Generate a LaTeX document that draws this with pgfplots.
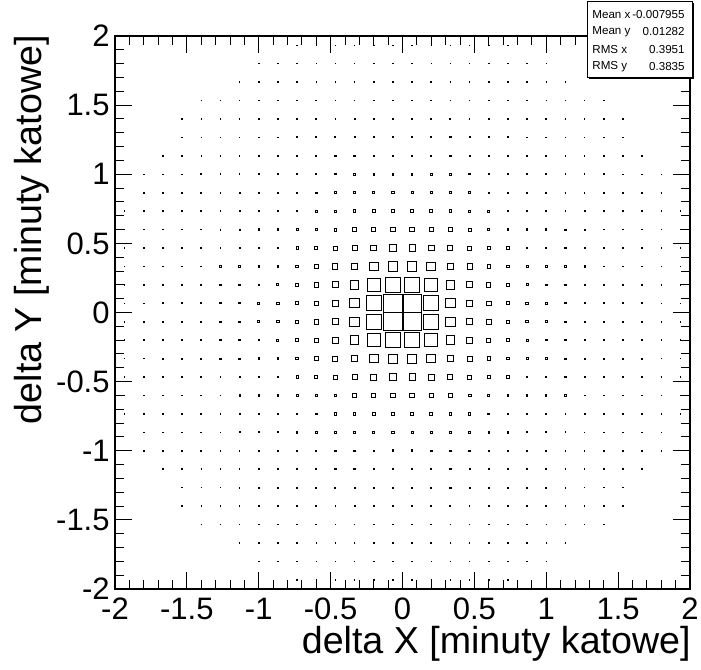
\documentclass[border=0pt]{standalone}
\usepackage{pgfplots}
\usepackage{pgfplotstable}
\pgfplotsset{compat=1.18}
\usepackage{fontspec}
\setmainfont{Liberation Sans}

% box side (percent of bin width), rows from bottom (y=-2) to top (y=2), columns from x=-2 to x=2
\pgfplotstableread[header=false]{
0 0 0 0 0 0 0 0 0 7 7 7 7 7 7 7 7 7 7 7 7 0 0 0 0 0 0 0 0 0
0 0 0 0 0 0 0 7 7 7 7 7 7 7 7 7 7 7 7 7 7 7 7 0 0 0 0 0 0 0
0 0 0 0 0 0 7 7 7 7 7 8 8 8 8 8 8 8 8 7 7 7 7 7 0 0 0 0 0 0
0 0 0 0 7 7 7 7 7 8 8 8 8 8 8 8 8 8 8 8 8 7 7 7 7 7 0 0 0 0
0 0 0 7 7 7 7 8 8 8 8 8 9 9 9 9 9 9 8 8 8 8 8 7 7 7 7 0 0 0
0 0 0 7 7 7 8 8 8 9 9 9 10 10 10 10 10 10 9 9 9 8 8 8 7 7 7 0 0 0
0 0 7 7 7 8 8 8 9 9 10 10 11 11 11 11 11 11 10 10 9 9 8 8 8 7 7 7 0 0
0 7 7 7 8 8 8 9 10 10 11 11 12 12 13 13 12 12 11 11 10 10 9 8 8 8 7 7 7 0
0 7 7 7 8 8 9 10 10 11 12 13 14 15 16 16 15 14 13 12 11 10 10 9 8 8 7 7 7 0
7 7 7 8 8 9 9 10 11 12 14 16 17 19 21 21 19 17 16 14 12 11 10 9 9 8 8 7 7 7
7 7 7 8 8 9 10 11 12 14 16 19 23 27 28 28 27 23 19 16 14 12 11 10 9 8 8 7 7 7
7 7 8 8 8 9 10 11 13 16 19 25 31 35 37 37 35 31 25 19 16 13 11 10 9 8 8 8 7 7
7 7 8 8 9 10 11 12 14 17 23 31 37 50 53 53 50 37 31 23 17 14 12 11 10 9 8 8 7 7
7 7 8 8 9 10 11 12 15 19 27 35 50 74 83 83 74 50 35 27 19 15 12 11 10 9 8 8 7 7
7 7 8 8 9 10 11 13 16 21 28 37 53 83 100 100 83 53 37 28 21 16 13 11 10 9 8 8 7 7
7 7 8 8 9 10 11 13 16 21 28 37 53 83 100 100 83 53 37 28 21 16 13 11 10 9 8 8 7 7
7 7 8 8 9 10 11 12 15 19 27 35 50 74 83 83 74 50 35 27 19 15 12 11 10 9 8 8 7 7
7 7 8 8 9 10 11 12 14 17 23 31 37 50 53 53 50 37 31 23 17 14 12 11 10 9 8 8 7 7
7 7 8 8 8 9 10 11 13 16 19 25 31 35 37 37 35 31 25 19 16 13 11 10 9 8 8 8 7 7
7 7 7 8 8 9 10 11 12 14 16 19 23 27 28 28 27 23 19 16 14 12 11 10 9 8 8 7 7 7
7 7 7 8 8 9 9 10 11 12 14 16 17 19 21 21 19 17 16 14 12 11 10 9 9 8 8 7 7 7
0 7 7 7 8 8 9 10 10 11 12 13 14 15 16 16 15 14 13 12 11 10 10 9 8 8 7 7 7 0
0 7 7 7 8 8 8 9 10 10 11 11 12 12 13 13 12 12 11 11 10 10 9 8 8 8 7 7 7 0
0 0 7 7 7 8 8 8 9 9 10 10 11 11 11 11 11 11 10 10 9 9 8 8 8 7 7 7 0 0
0 0 0 7 7 7 8 8 8 9 9 9 10 10 10 10 10 10 9 9 9 8 8 8 7 7 7 0 0 0
0 0 0 7 7 7 7 8 8 8 8 8 9 9 9 9 9 9 8 8 8 8 8 7 7 7 7 0 0 0
0 0 0 0 7 7 7 7 7 8 8 8 8 8 8 8 8 8 8 8 8 7 7 7 7 7 0 0 0 0
0 0 0 0 0 0 7 7 7 7 7 8 8 8 8 8 8 8 8 7 7 7 7 7 0 0 0 0 0 0
0 0 0 0 0 0 0 7 7 7 7 7 7 7 7 7 7 7 7 7 7 7 7 0 0 0 0 0 0 0
0 0 0 0 0 0 0 0 0 7 7 7 7 7 7 7 7 7 7 7 7 0 0 0 0 0 0 0 0 0
}\boxdata

\begin{document}
\begin{tikzpicture}
\useasboundingbox (0,0) rectangle (350.5pt,334.5pt);
\begin{axis}[
  at={(57.5pt,40pt)}, anchor=south west,
  scale only axis, width=287.5pt, height=276.5pt,
  xmin=-2, xmax=2, ymin=-2, ymax=2,
  xtick={-2,-1.5,...,2}, ytick={-2,-1.5,...,2},
  minor tick num=4,
  tick align=inside,
  major tick length=8.5pt, minor tick length=4.5pt,
  axis line style={line width=0.6pt},
  every tick/.style={black, line width=0.5pt},
  /pgf/number format/assume math mode=true,
  ticklabel style={font=\fontsize{15.5}{18}\selectfont},
  xticklabel style={yshift=-1pt},
  yticklabel style={inner xsep=2.5pt},
  point meta min=0, point meta max=100,
  clip=false,
]
\pgfplotsinvokeforeach{0,...,29}{
  \addplot[black, scatter, only marks, mark=square,
    mark options={line width=0.45pt, solid},
    restrict y to domain=-3:3,
    point meta=explicit,
    scatter/@pre marker code/.code={%
      \begingroup
      \pgfkeys{/pgf/fpu=false}%
      \pgfmathparse{\pgfplotspointmetatransformed*0.00475-0.2}%
      \xdef\boxhalf{\pgfmathresult}%
      \endgroup
      \begingroup
      \pgfplotmarksize=\boxhalf pt\relax
    },
    scatter/@post marker code/.code={\endgroup},
  ] table[meta index=#1, x expr={-2+(#1+0.5)/7.5},
          y expr={\thisrowno{#1}>0 ? -2+(\coordindex+0.5)/7.5 : 99}] {\boxdata};
}
\end{axis}
% axis titles
\node[anchor=base east, inner sep=0pt, font=\fontsize{18.8}{22}\selectfont] at (345.5pt,8pt) {delta X [minuty katowe]};
\node[rotate=90, anchor=base east, inner sep=0pt, font=\fontsize{18.8}{22}\selectfont] at (21pt,317pt) {delta Y [minuty katowe]};
% statistics box
\fill[black] (294.5pt,295.2pt) rectangle (347pt,333pt);
\filldraw[fill=white, draw=black, line width=0.4pt] (293.5pt,296pt) rectangle (346pt,334pt);
\begin{scope}[every node/.style={inner sep=0pt, font=\fontsize{5.8}{7}\selectfont}]
\node[anchor=west] at (296pt,327pt) {Mean x};
\node[anchor=east] at (342.5pt,327pt) {-0.007955};
\node[anchor=west] at (296pt,318.5pt) {Mean y};
\node[anchor=east] at (342.5pt,318.5pt) {0.01282};
\node[anchor=west] at (296pt,309.5pt) {RMS x};
\node[anchor=east] at (342.5pt,309.5pt) {0.3951};
\node[anchor=west] at (296pt,301pt) {RMS y};
\node[anchor=east] at (342.5pt,301pt) {0.3835};
\end{scope}
\end{tikzpicture}
\end{document}
